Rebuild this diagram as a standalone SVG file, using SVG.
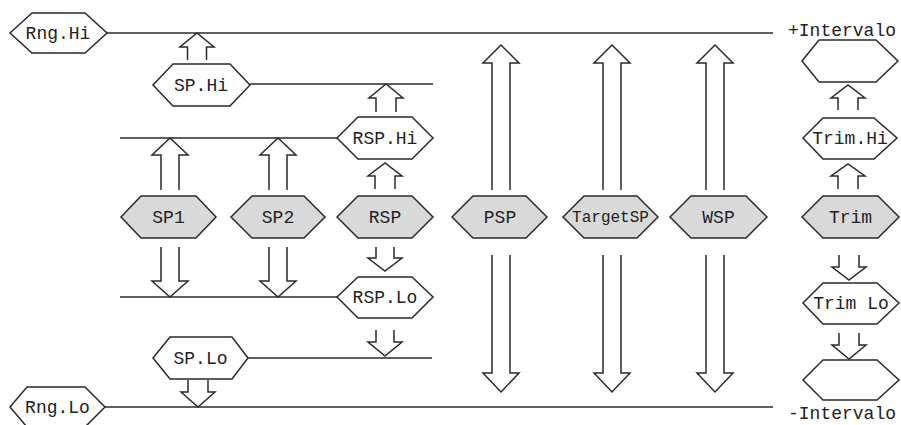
<svg xmlns="http://www.w3.org/2000/svg" width="901" height="425" viewBox="0 0 901 425">
<style>
.bg{fill:#ffffff}
.hx{fill:#ffffff;stroke:#2a2a2a;stroke-width:1.5}
.hg{fill:#d9d9d9;stroke:#2a2a2a;stroke-width:1.5}
.ln{stroke:#2a2a2a;stroke-width:1.5;fill:none}
.ar{fill:none;stroke:#2a2a2a;stroke-width:1.5;stroke-linejoin:miter}
.t{font-family:"Liberation Mono","Courier New",monospace;font-size:18px;fill:#222222;text-anchor:middle}
.te{font-family:"Liberation Mono","Courier New",monospace;font-size:18px;fill:#222222;text-anchor:start}
</style>
<rect class="bg" x="0" y="0" width="901" height="425"/>
<g id="connectors">
<line class="ln" x1="107" y1="33" x2="773" y2="33"/>
<line class="ln" x1="250" y1="84" x2="433" y2="84"/>
<line class="ln" x1="120" y1="138" x2="337" y2="138"/>
<line class="ln" x1="120" y1="297" x2="337" y2="297"/>
<line class="ln" x1="248" y1="358" x2="432" y2="358"/>
<line class="ln" x1="105" y1="407" x2="773" y2="407"/>
<polyline class="ar" points="187.5,60 187.5,47 180,47 197,33 214,47 206.5,47 206.5,60"/>
<polyline class="ar" points="376,112 376,98 369,98 386,84 403,98 396,98 396,112"/>
<polyline class="ar" points="161,190 161,155 152,155 170,138 188,155 179,155 179,190"/>
<polyline class="ar" points="269,190 269,155 260,155 278,138 296,155 287,155 287,190"/>
<polyline class="ar" points="375,189 375,176 368,176 385,163 402,176 395,176 395,189"/>
<polyline class="ar" points="161,247 161,281 152,281 170,297 188,281 179,281 179,247"/>
<polyline class="ar" points="269,247 269,281 260,281 278,297 296,281 287,281 287,247"/>
<polyline class="ar" points="376,247 376,258 368,258 385,271 402,258 394,258 394,247"/>
<polyline class="ar" points="376,330 376,342 368,342 385,356 402,342 394,342 394,330"/>
<polyline class="ar" points="188,380 188,392 181,392 198,407 215,392 208,392 208,380"/>
<polyline class="ar" points="838,110 838,98 831,98 848,85 865,98 858,98 858,110"/>
<polyline class="ar" points="838,189 838,176 831,176 848,164 865,176 858,176 858,189"/>
<polyline class="ar" points="839,255 839,267 832,267 849,280 866,267 859,267 859,255"/>
<polyline class="ar" points="839,333 839,345 832,345 849,359 866,345 859,345 859,333"/>
<polyline class="ar" points="492,190 492,63 483,63 501,45 519,63 510,63 510,190"/>
<polyline class="ar" points="603,190 603,63 594,63 612,45 630,63 621,63 621,190"/>
<polyline class="ar" points="706,190 706,63 697,63 715,45 733,63 724,63 724,190"/>
<polyline class="ar" points="492,255 492,373 483,373 501,392 519,373 510,373 510,255"/>
<polyline class="ar" points="603,255 603,373 594,373 612,392 630,373 621,373 621,255"/>
<polyline class="ar" points="706,255 706,373 697,373 715,392 733,373 724,373 724,255"/>
</g>
<g id="rng-hi"><polygon class="hx" points="10,33 32,13 85,13 107,33 85,53 32,53"/><text class="t" x="58" y="39">Rng.Hi</text></g>
<g id="sp-hi"><polygon class="hx" points="153,85 173,64 230,64 250,85 230,106 173,106"/><text class="t" x="201" y="91">SP.Hi</text></g>
<g id="rsp-hi"><polygon class="hx" points="337,138 358,117 412,117 433,138 412,159 358,159"/><text class="t" x="385" y="144">RSP.Hi</text></g>
<g id="sp1"><polygon class="hg" points="121,217 141,196 196,196 216,217 196,238 141,238"/><text class="t" x="168.5" y="223">SP1</text></g>
<g id="sp2"><polygon class="hg" points="231,217 252,196 304,196 325,217 304,238 252,238"/><text class="t" x="278" y="223">SP2</text></g>
<g id="rsp"><polygon class="hg" points="337,217 358,196 412,196 433,217 412,238 358,238"/><text class="t" x="385" y="223">RSP</text></g>
<g id="psp"><polygon class="hg" points="452,217 473,196 526,196 547,217 526,238 473,238"/><text class="t" x="500" y="223">PSP</text></g>
<g id="targetsp"><polygon class="hg" points="563,217 584,196 637,196 658,217 637,238 584,238"/><text class="t" x="610.5" y="222" style="font-size:16px">TargetSP</text></g>
<g id="wsp"><polygon class="hg" points="670,217 691,196 746,196 767,217 746,238 691,238"/><text class="t" x="718.5" y="223">WSP</text></g>
<g id="trim"><polygon class="hg" points="802,217 823,196 878,196 899,217 878,238 823,238"/><text class="t" x="850.5" y="223">Trim</text></g>
<g id="top-empty"><polygon class="hx" points="802,61 819,40 876,40 898,61 876,82 819,82"/></g>
<g id="trim-hi"><polygon class="hx" points="803,138 823,118 874,118 897,138 874,159 823,159"/><text class="t" x="850" y="144">Trim.Hi</text></g>
<g id="trim-lo"><polygon class="hx" points="803,303 823,283 877,283 899,303 877,324 823,324"/><text class="t" x="851" y="309">Trim Lo</text></g>
<g id="bottom-empty"><polygon class="hx" points="803,380 823,360 877,360 899,380 877,400 823,400"/></g>
<g id="rsp-lo"><polygon class="hx" points="337,297 358,277 412,277 433,297 412,318 358,318"/><text class="t" x="385" y="303">RSP.Lo</text></g>
<g id="sp-lo"><polygon class="hx" points="153,358 170,337 232,337 248,358 232,379 170,379"/><text class="t" x="200.5" y="364">SP.Lo</text></g>
<g id="rng-lo"><polygon class="hx" points="10,407 27,387 85,387 105,407 85,427 27,427"/><text class="t" x="57.5" y="413">Rng.Lo</text></g>
<g id="plus-intervalo"><text class="te" x="788" y="36">+Intervalo</text></g>
<g id="minus-intervalo"><text class="te" x="788" y="419">-Intervalo</text></g>
</svg>
